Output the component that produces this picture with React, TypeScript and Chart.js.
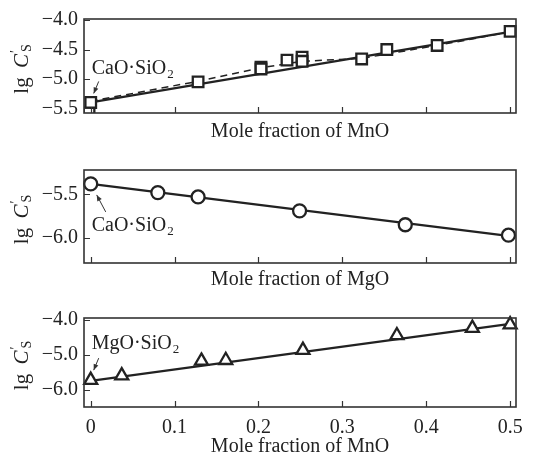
import React, { useEffect, useRef } from "react";
import { Chart, registerables } from "chart.js";

Chart.register(...registerables);

const FONT = "'Liberation Serif', 'Times New Roman', Times, serif";
const INK = "#222";

// ---- shared x axis ----
const X_MIN = -0.008;
const X_MAX = 0.507;
const X_TICKS = [0, 0.1, 0.2, 0.3, 0.4, 0.5];

// ---- panel 1: CaO·SiO2 + MnO (squares) ----
const P1_X = [0, 0.128, 0.203, 0.203, 0.234, 0.252, 0.252, 0.323, 0.353, 0.413, 0.5];
const P1_Y = [-5.4, -5.05, -4.8, -4.83, -4.68, -4.63, -4.7, -4.66, -4.5, -4.43, -4.19];
const P1_EDGE_X = [-0.002];
const P1_EDGE_Y = [-5.58];
const P1_FIT_X = [0, 0.5];
const P1_FIT_Y = [-5.4, -4.2];
const P1_DASH_X = [0, 0.128, 0.203, 0.252, 0.323, 0.413, 0.5];
const P1_DASH_Y = [-5.38, -5.04, -4.81, -4.7, -4.65, -4.43, -4.2];
const P1_Y_TICKS = [-5.5, -5.0, -4.5, -4.0];

// ---- panel 2: CaO·SiO2 + MgO (circles) ----
const P2_X = [0, 0.08, 0.128, 0.249, 0.375, 0.498];
const P2_Y = [-5.38, -5.48, -5.53, -5.69, -5.85, -5.97];
const P2_FIT_X = [0, 0.5];
const P2_FIT_Y = [-5.38, -5.98];
const P2_Y_TICKS = [-6.0, -5.5];

// ---- panel 3: MgO·SiO2 + MnO (triangles) ----
const P3_X = [0, 0.037, 0.132, 0.161, 0.253, 0.365, 0.455, 0.5];
const P3_Y = [-5.73, -5.6, -5.18, -5.16, -4.87, -4.45, -4.24, -4.14];
const P3_FIT_X = [0, 0.5];
const P3_FIT_Y = [-5.75, -4.12];
const P3_Y_TICKS = [-6.0, -5.0, -4.0];

const fmtY = (v: number) => (v < 0 ? "\u2212" : "") + Math.abs(v).toFixed(1);
const fmtX = (v: number) => (Math.abs(v) < 1e-9 ? "0" : String(Number(v.toFixed(1))));
const pts = (xs: number[], ys: number[]) => xs.map((x, i) => ({ x, y: ys[i] }));

function drawArrow(ctx: CanvasRenderingContext2D, x1: number, y1: number, x2: number, y2: number) {
  ctx.beginPath();
  ctx.moveTo(x1, y1);
  ctx.lineTo(x2, y2);
  ctx.stroke();
  const a = Math.atan2(y2 - y1, x2 - x1);
  const L = 6;
  const W = 2.5;
  ctx.beginPath();
  ctx.moveTo(x2, y2);
  ctx.lineTo(x2 - L * Math.cos(a) + W * Math.sin(a), y2 - L * Math.sin(a) - W * Math.cos(a));
  ctx.lineTo(x2 - L * Math.cos(a) - W * Math.sin(a), y2 - L * Math.sin(a) + W * Math.cos(a));
  ctx.closePath();
  ctx.fill();
}

type Ann = {
  yTicks: number[];
  label: string;
  anchorX: number;
  anchorY: number;
  textDx: number;
  textDy: number;
  arrow: [number, number, number, number];
};

function decorPlugin(ann: Ann) {
  return {
    id: "decor",
    afterDatasetsDraw(chart: any) {
      const { ctx, chartArea: a, scales } = chart;
      const xs = scales.x;
      const ys = scales.y;
      ctx.save();
      // frame
      ctx.strokeStyle = "#333";
      ctx.lineWidth = 1.6;
      ctx.strokeRect(a.left, a.top, a.right - a.left, a.bottom - a.top);
      // inner ticks
      ctx.lineWidth = 1.2;
      ctx.beginPath();
      for (const v of X_TICKS) {
        const px = Math.round(xs.getPixelForValue(v)) + 0.5;
        ctx.moveTo(px, a.bottom);
        ctx.lineTo(px, a.bottom - 6);
      }
      for (const v of ann.yTicks) {
        const py = Math.round(ys.getPixelForValue(v)) + 0.5;
        ctx.moveTo(a.left, py);
        ctx.lineTo(a.left + 6, py);
      }
      ctx.stroke();

      // y title: lg C'_S (rotated)
      ctx.fillStyle = INK;
      ctx.save();
      ctx.translate(22, (a.top + a.bottom) / 2 + 3);
      ctx.rotate(-Math.PI / 2);
      ctx.textBaseline = "alphabetic";
      ctx.textAlign = "left";
      const big = `21px ${FONT}`;
      const ital = `italic 21px ${FONT}`;
      const small = `14px ${FONT}`;
      ctx.font = big;
      const w1 = ctx.measureText("lg ").width + 4;
      ctx.font = ital;
      const w2 = ctx.measureText("C").width;
      ctx.font = small;
      const w3 = ctx.measureText("S").width;
      const total = w1 + w2 + w3 + 2;
      let x = -total / 2;
      const base = 6;
      ctx.font = big;
      ctx.fillText("lg", x, base);
      x += w1;
      ctx.font = ital;
      ctx.fillText("C", x, base);
      x += w2;
      ctx.font = small;
      ctx.fillText("\u2032", x + 1, base - 8);
      ctx.fillText("S", x + 2, base + 3);
      ctx.restore();

      // annotation
      const px = xs.getPixelForValue(ann.anchorX);
      const py = ys.getPixelForValue(ann.anchorY);
      ctx.textAlign = "left";
      ctx.textBaseline = "alphabetic";
      ctx.font = `20px ${FONT}`;
      const tx = px + ann.textDx;
      const ty = py + ann.textDy;
      ctx.fillText(ann.label, tx, ty);
      const lw = ctx.measureText(ann.label).width;
      ctx.font = `13px ${FONT}`;
      ctx.fillText("2", tx + lw + 1, ty + 4);
      ctx.strokeStyle = "#333";
      ctx.fillStyle = "#333";
      ctx.lineWidth = 1;
      const [ax1, ay1, ax2, ay2] = ann.arrow;
      drawArrow(ctx, px + ax1, py + ay1, px + ax2, py + ay2);
      ctx.restore();
    },
  };
}

type PanelProps = {
  top: number;
  height: number;
  chartTop: number;
  chartBottom: number;
  yMin: number;
  yMax: number;
  datasets: any[];
  xTitle: string;
  showXLabels: boolean;
  titlePad: number;
  tickPad: number;
  ann: Ann;
};

function Panel(p: PanelProps) {
  const ref = useRef<HTMLCanvasElement>(null);
  useEffect(() => {
    const font = { family: FONT, size: 20 };
    const chart = new Chart(ref.current as HTMLCanvasElement, {
      type: "scatter",
      data: { datasets: p.datasets },
      options: {
        animation: false,
        responsive: false,
        devicePixelRatio: 1,
        events: [],
        layout: { padding: { left: 0, right: 29, top: p.chartTop, bottom: 0 } },
        plugins: { legend: { display: false }, tooltip: { enabled: false } },
        scales: {
          x: {
            type: "linear",
            min: X_MIN,
            max: X_MAX,
            afterBuildTicks: (s: any) => {
              s.ticks = X_TICKS.map((v) => ({ value: v }));
            },
            afterFit: (s: any) => {
              s.height = p.height - p.chartBottom;
            },
            grid: { display: false, drawTicks: false },
            border: { display: false },
            ticks: {
              display: p.showXLabels,
              font,
              color: INK,
              padding: p.tickPad,
              maxRotation: 0,
              callback: (v: any) => fmtX(Number(v)),
            },
            title: {
              display: true,
              text: p.xTitle,
              font,
              color: INK,
              padding: { top: 0, bottom: p.titlePad },
            },
          },
          y: {
            type: "linear",
            min: p.yMin,
            max: p.yMax,
            afterBuildTicks: (s: any) => {
              s.ticks = p.ann.yTicks.map((v) => ({ value: v }));
            },
            afterFit: (s: any) => {
              s.width = 84;
            },
            grid: { display: false, drawTicks: false },
            border: { display: false },
            ticks: {
              font,
              color: INK,
              padding: 6,
              callback: (v: any) => fmtY(Number(v)),
            },
          },
        },
      } as any,
      plugins: [decorPlugin(p.ann)],
    });
    return () => chart.destroy();
  }, []);
  return (
    <canvas
      ref={ref}
      width={545}
      height={p.height}
      style={{ position: "absolute", left: 0, top: p.top, width: 545, height: p.height }}
    />
  );
}

const markerSet = (data: any[], style: string, r: number, extra: any = {}) => ({
  data,
  showLine: false,
  pointStyle: style,
  pointRadius: r,
  pointHoverRadius: r,
  pointBorderWidth: 2.3,
  pointBorderColor: INK,
  pointBackgroundColor: "#fff",
  borderColor: INK,
  backgroundColor: "#fff",
  clip: false,
  ...extra,
});

const lineSet = (data: any[], width: number, dash: number[] = []) => ({
  data,
  showLine: true,
  pointRadius: 0,
  pointHoverRadius: 0,
  borderColor: INK,
  borderWidth: width,
  borderDash: dash,
  fill: false,
  clip: false,
});

export default function App() {
  return (
    <div
      style={{
        position: "fixed",
        left: 0,
        top: 0,
        width: 545,
        height: 455,
        overflow: "hidden",
        background: "#fff",
      }}
    >
      <Panel
        top={0}
        height={150}
        chartTop={19}
        chartBottom={113}
        yMin={-5.58}
        yMax={-3.98}
        xTitle="Mole fraction of MnO"
        showXLabels={false}
        titlePad={6}
        tickPad={6}
        datasets={[
          markerSet(pts(P1_X, P1_Y), "rect", 7.5),
          markerSet(pts(P1_EDGE_X, P1_EDGE_Y), "rect", 7.5, { clip: 0 }),
          lineSet(pts(P1_FIT_X, P1_FIT_Y), 2.2),
          lineSet(pts(P1_DASH_X, P1_DASH_Y), 1.5, [7, 5]),
        ]}
        ann={{
          yTicks: P1_Y_TICKS,
          label: "CaO\u00b7SiO",
          anchorX: P1_X[0],
          anchorY: P1_Y[0],
          textDx: 1,
          textDy: -28,
          arrow: [8, -21, 3, -9],
        }}
      />
      <Panel
        top={150}
        height={150}
        chartTop={20}
        chartBottom={113}
        yMin={-6.29}
        yMax={-5.22}
        xTitle="Mole fraction of MgO"
        showXLabels={false}
        titlePad={8}
        tickPad={6}
        datasets={[
          markerSet(pts(P2_X, P2_Y), "circle", 6.5),
          lineSet(pts(P2_FIT_X, P2_FIT_Y), 2.2),
        ]}
        ann={{
          yTicks: P2_Y_TICKS,
          label: "CaO\u00b7SiO",
          anchorX: P2_X[0],
          anchorY: P2_Y[0],
          textDx: 1,
          textDy: 47,
          arrow: [15, 28, 6, 11],
        }}
      />
      <Panel
        top={300}
        height={160}
        chartTop={14}
        chartBottom={107}
        yMin={-6.5}
        yMax={-3.95}
        xTitle="Mole fraction of MnO"
        showXLabels={true}
        titlePad={1}
        tickPad={9}
        datasets={[
          markerSet(pts(P3_X, P3_Y), "triangle", 7.5),
          lineSet(pts(P3_FIT_X, P3_FIT_Y), 2.2),
        ]}
        ann={{
          yTicks: P3_Y_TICKS,
          label: "MgO\u00b7SiO",
          anchorX: P3_X[0],
          anchorY: P3_Y[0],
          textDx: 1,
          textDy: -31,
          arrow: [8, -22, 3, -10],
        }}
      />
    </div>
  );
}
